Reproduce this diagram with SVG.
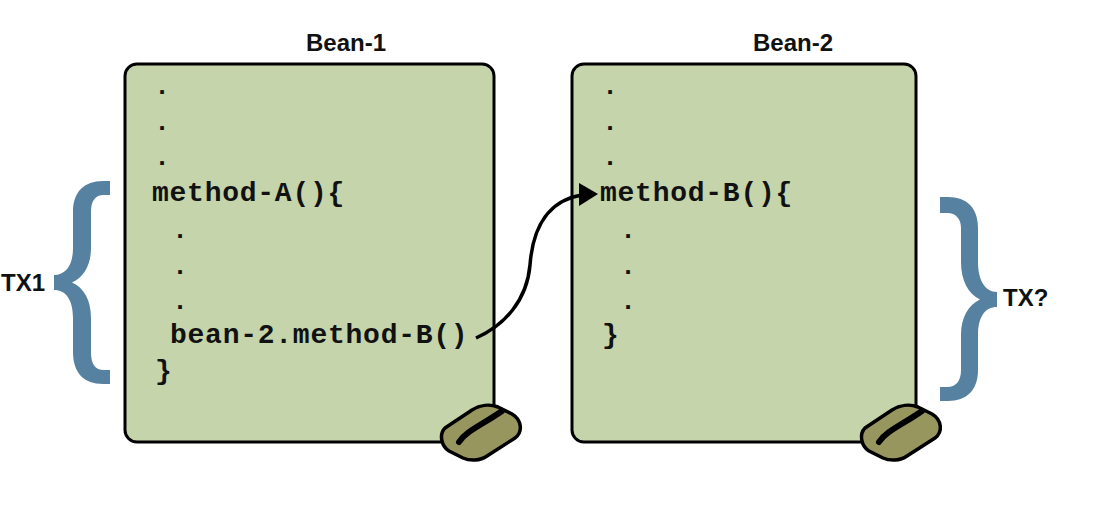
<svg xmlns="http://www.w3.org/2000/svg" width="1109" height="526" viewBox="0 0 1109 526">
<defs>
<style>
.box{fill:#c5d4aa;stroke:#000;stroke-width:3}
.code{font-family:"Liberation Mono","Courier New",monospace;font-weight:bold;font-size:28px;letter-spacing:.75px;fill:#111}
.dot{font-family:"Liberation Mono","Courier New",monospace;font-weight:bold;font-size:26px;fill:#111}
.lab{font-family:"Liberation Sans",Arial,sans-serif;font-weight:bold;font-size:24px;fill:#111}
.brace{fill:#5781a1}
.knob{fill:#98965f;stroke:#000;stroke-width:3.5}
.groove{fill:none;stroke:#000;stroke-width:6;stroke-linecap:round}
</style>
<path id="handle" class="knob" d="M445 428L472 410C480 405 490 404 498 407L512 414C522 420 523 432 515 438L487 456C480 461 470 461 463 458L449 451C441 446 439 434 445 428Z"/>
</defs>
<rect width="1109" height="526" fill="#fff"/>
<g id="bean-1">
<rect class="box" x="125" y="64" width="369" height="378" rx="12"/>
<text class="lab" x="346" y="51" text-anchor="middle">Bean-1</text>
<text class="dot" x="154.2" y="93.5">.</text>
<text class="dot" x="154.2" y="129.5">.</text>
<text class="dot" x="154.2" y="164.5">.</text>
<text class="code" x="152" y="201">method-A(){</text>
<text class="dot" x="172.2" y="237.5">.</text>
<text class="dot" x="172.2" y="273.5">.</text>
<text class="dot" x="172.2" y="308.5">.</text>
<text class="code" x="170" y="343">bean-2.method-B()</text>
<text class="code" x="155" y="379">}</text>
<use href="#handle"/>
<path class="groove" d="M459 442C466 431 482 425 502 411"/>
</g>
<g id="bean-2">
<rect class="box" x="572" y="64" width="344" height="378" rx="12"/>
<text class="lab" x="793" y="51" text-anchor="middle">Bean-2</text>
<text class="dot" x="602.2" y="93.5">.</text>
<text class="dot" x="602.2" y="129.5">.</text>
<text class="dot" x="602.2" y="164.5">.</text>
<text class="code" x="600" y="201">method-B(){</text>
<text class="dot" x="620.2" y="237.5">.</text>
<text class="dot" x="620.2" y="273.5">.</text>
<text class="dot" x="620.2" y="308.5">.</text>
<text class="code" x="602" y="343">}</text>
<use href="#handle" x="420"/>
<path class="groove" d="M879 442C886 431 902 425 922 411"/>
</g>
<g id="tx1">
<path class="brace" d="M110 181H103C84 181 73 192 73 212V248C73 265 66 275 54 275V290C66 290 73 300 73 318V352C73 373 84 384 103 384H110V370H104C95 370 91 364 91 352V318C91 300 84 288 72 282.5C84 277 91 265 91 248V212C91 201 95 195 104 195H110Z"/>
<text class="lab" x="1" y="291">TX1</text>
</g>
<g id="tx2">
<path class="brace" d="M940 197H948C967 197 978 208 978 228V262C978 280 985 292 997 292V307C985 307 978 317 978 335V370C978 390 967 401 948 401H940V387H947C956 387 961 381 961 370V335C961 318 968 305 980 299.5C968 294 961 280 961 262V228C961 219 956 213 947 213H940Z"/>
<text class="lab" x="1003" y="306">TX?</text>
</g>
<g id="connectors">
<path d="M476 338C505 325 527 300 530 265C533 225 550 200 582 195" fill="none" stroke="#000" stroke-width="3.5"/>
<path d="M579 183L598 194L579 206Z" fill="#000"/>
</g>
</svg>
